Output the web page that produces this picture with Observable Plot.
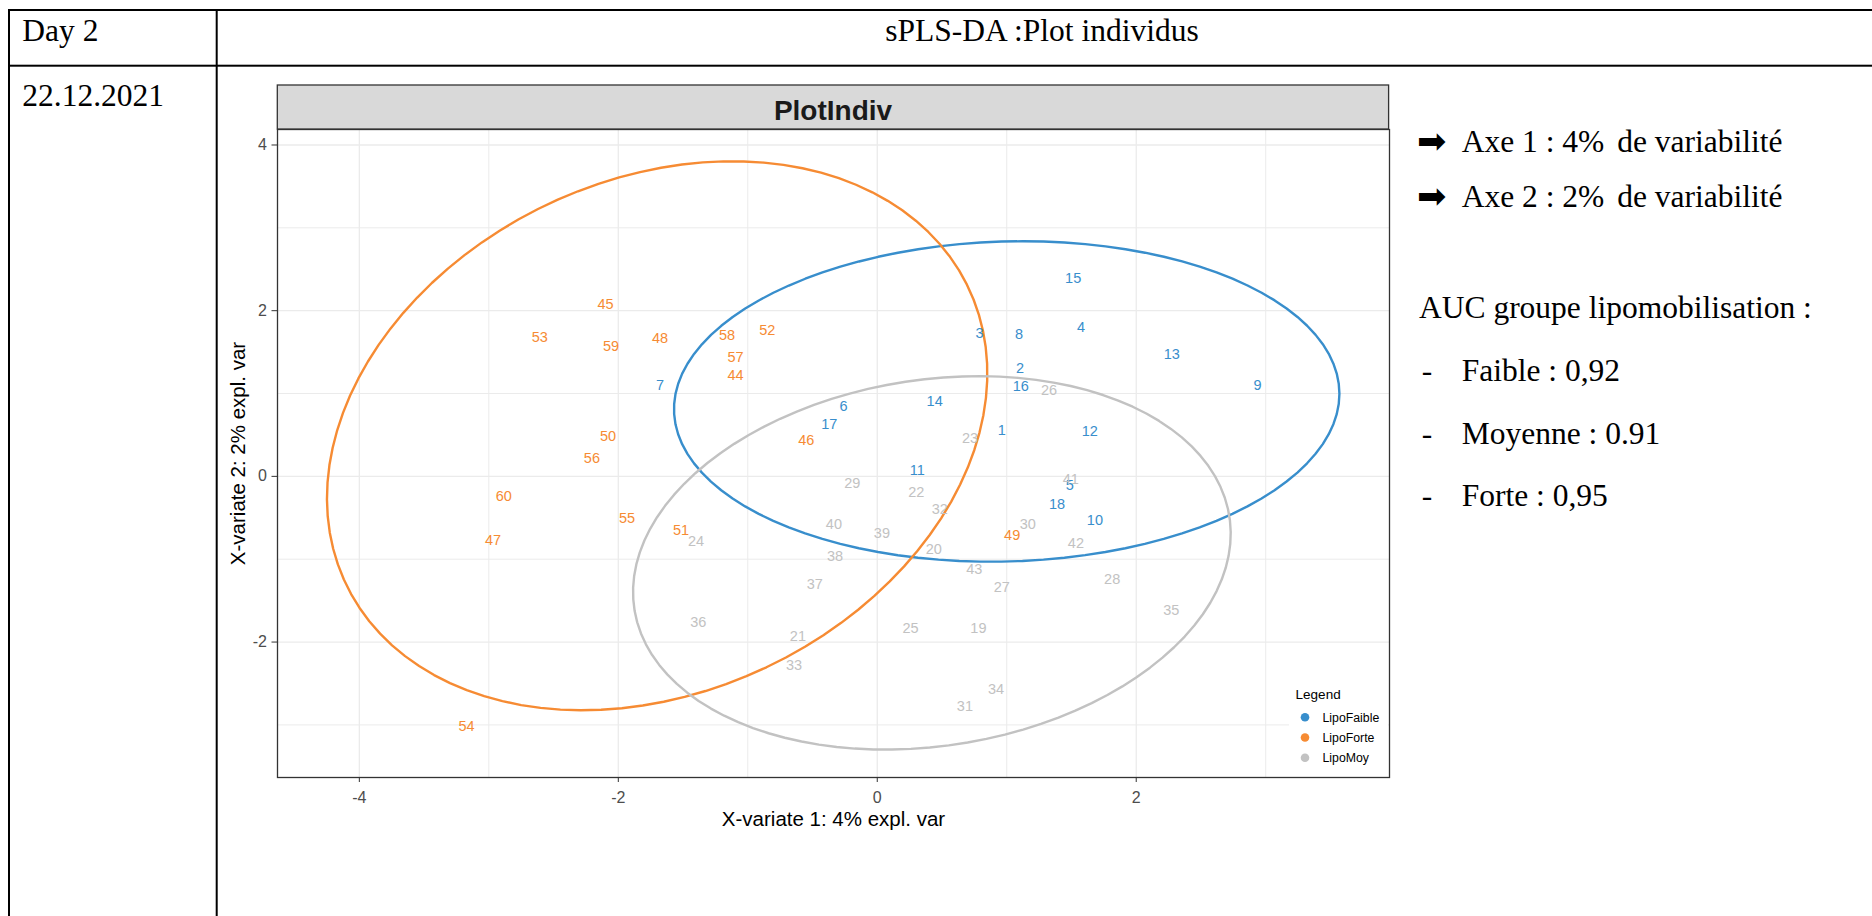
<!DOCTYPE html>
<html><head><meta charset="utf-8">
<script src="https://cdn.jsdelivr.net/npm/d3@7"></script>
<script src="https://cdn.jsdelivr.net/npm/@observablehq/plot@0.6"></script>
<style>
html,body{margin:0;padding:0;background:#fff;width:1872px;height:916px;overflow:hidden;}
#plot{position:absolute;left:200px;top:125px;}
#overlay{position:absolute;left:0;top:0;pointer-events:none;}
</style></head><body>
<div id="plot"></div>
<svg id="overlay" width="1872" height="916"></svg>
<script>
// ---- data ----
const groups = ["LipoFaible", "LipoForte", "LipoMoy"];
const groupColors = ["#388ECC", "#F68B33", "#C2C2C2"];

const faibleIds = [1,2,3,4,5,6,7,8,9,10,11,12,13,14,15,16,17,18];
const faibleX = [0.962,1.103,0.789,1.574,1.486,-0.261,-1.678,1.095,2.937,1.681,0.310,1.641,2.274,0.443,1.513,1.108,-0.371,1.388];
const faibleY = [0.560,1.309,1.732,1.800,-0.112,0.842,1.095,1.720,1.095,-0.527,0.069,0.544,1.470,0.906,2.391,1.092,0.633,-0.342];

const moyIds = [19,20,21,22,23,24,25,26,27,28,29,30,31,32,33,34,35,36,37,38,39,40,41,42,43];
const moyX = [0.781,0.437,-0.613,0.302,0.717,-1.400,0.257,1.327,0.962,1.814,-0.193,1.162,0.677,0.483,-0.643,0.917,2.271,-1.382,-0.483,-0.326,0.036,-0.335,1.494,1.534,0.749];
const moyY = [-1.831,-0.877,-1.932,-0.197,0.459,-0.789,-1.831,1.043,-1.340,-1.239,-0.080,-0.575,-2.778,-0.402,-2.278,-2.576,-1.614,-1.763,-1.300,-0.970,-0.688,-0.575,-0.040,-0.805,-1.127];

const forteIds = [44,45,46,47,48,49,50,51,52,53,54,55,56,57,58,59,60];
const forteX = [-1.095,-2.098,-0.548,-2.968,-1.678,1.042,-2.080,-1.515,-0.850,-2.607,-3.172,-1.932,-2.204,-1.095,-1.160,-2.056,-2.885];
const forteY = [1.220,2.082,0.431,-0.777,1.667,-0.708,0.479,-0.656,1.768,1.679,-3.023,-0.507,0.217,1.437,1.699,1.566,-0.242];

const xDomain = [-4.632, 3.956];
const yDomain = [-3.635, 4.187];
const xTicks = [-4, -2, 0, 2];
const yTicks = [-2, 0, 2, 4];
const xMinor = [-3, -1, 1, 3];
const yMinor = [-3, -1, 1, 3];

const xTitle = "X-variate 1: 4% expl. var";
const yTitle = "X-variate 2: 2% expl. var";
const panelTitle = "PlotIndiv";
const legendTitle = "Legend";

const headerLeft = "Day 2";
const headerRight = "sPLS-DA :Plot individus";
const dateText = "22.12.2021";
const axeNotes = ["Axe 1 : 4%", "Axe 2 : 2%"];
const axeNoteTail = " de variabilité";
const aucTitle = "AUC groupe lipomobilisation :";
const aucLines = ["Faible : 0,92", "Moyenne : 0.91", "Forte : 0,95"];

// ---- build table ----
const series = [
  {group: "LipoFaible", ids: faibleIds, xs: faibleX, ys: faibleY},
  {group: "LipoForte", ids: forteIds, xs: forteX, ys: forteY},
  {group: "LipoMoy", ids: moyIds, xs: moyX, ys: moyY}
];
const points = series.flatMap(s => s.ids.map((id, i) => ({id: String(id), x: s.xs[i], y: s.ys[i], group: s.group})));

// 95% confidence ellipse (as in the R 'ellipse' package used by mixOmics)
function confEllipse(s, level = 0.95, npoints = 100) {
  const n = s.xs.length;
  const mx = d3.mean(s.xs), my = d3.mean(s.ys);
  const sx = d3.deviation(s.xs), sy = d3.deviation(s.ys);
  let cxy = 0;
  for (let i = 0; i < n; i++) cxy += (s.xs[i] - mx) * (s.ys[i] - my);
  cxy /= (n - 1);
  const d = Math.acos(cxy / (sx * sy));
  const t = Math.sqrt(-2 * Math.log(1 - level));
  return d3.range(npoints).map(k => {
    const a = 2 * Math.PI * k / (npoints - 1);
    return {x: t * sx * Math.cos(a + d / 2) + mx, y: t * sy * Math.cos(a - d / 2) + my, group: s.group};
  });
}
const ellipses = series.flatMap(s => confEllipse(s));

// ---- plot ----
const chart = Plot.plot({
  width: 1209, height: 720,
  marginLeft: 77, marginRight: 20, marginTop: 4, marginBottom: 68,
  style: {fontFamily: "'Liberation Sans', Arial, sans-serif", background: "transparent", overflow: "visible", color: "#333"},
  x: {domain: xDomain},
  y: {domain: yDomain},
  color: {domain: groups, range: groupColors},
  marks: [
    Plot.gridX({ticks: xMinor, stroke: "#EBEBEB", strokeOpacity: 1, strokeWidth: 1}),
    Plot.gridY({ticks: yMinor, stroke: "#EBEBEB", strokeOpacity: 1, strokeWidth: 1}),
    Plot.gridX({ticks: xTicks, stroke: "#EBEBEB", strokeOpacity: 1, strokeWidth: 1.3}),
    Plot.gridY({ticks: yTicks, stroke: "#EBEBEB", strokeOpacity: 1, strokeWidth: 1.3}),
    Plot.line(ellipses, {x: "x", y: "y", z: "group", stroke: "group", strokeWidth: 2.4}),
    Plot.text(points, {x: "x", y: "y", text: "id", fill: "group", fontSize: 14.5}),
    Plot.frame({stroke: "#333", strokeWidth: 1.3}),
    Plot.axisX({ticks: xTicks, tickSize: 5, tickPadding: 9, fontSize: 16, color: "#4D4D4D", stroke: "#333", tickFormat: d => String(d), label: null}),
    Plot.axisY({ticks: yTicks, tickSize: 5.5, tickPadding: 5, fontSize: 16, color: "#4D4D4D", stroke: "#333", tickFormat: d => String(d), label: null}),
    Plot.text([xTitle], {frameAnchor: "bottom", dy: 42, textAnchor: "middle", lineAnchor: "middle", fontSize: 20.5, fill: "#000"}),
    Plot.text([yTitle], {frameAnchor: "left", dx: -39, rotate: -90, textAnchor: "middle", lineAnchor: "middle", fontSize: 20.5, fill: "#000"})
  ]
});
document.getElementById("plot").appendChild(chart);

// ---- overlay: table, strip, notes, legend ----
const svg = d3.select("#overlay");
const serif = "'Liberation Serif', 'Times New Roman', serif";
const sans = "'Liberation Sans', Arial, sans-serif";

// table borders
[[8, 9, 1872, 2], [8, 64.7, 1872, 2], [8, 9, 2, 916], [215.7, 9, 2, 916]].forEach(([x, y, w, h]) => {
  svg.append("rect").attr("x", x).attr("y", y).attr("width", w - (w > 100 ? x : 0)).attr("height", h - (h > 100 ? y : 0)).attr("fill", "#000");
});

const txt = (s, x, y, opts = {}) => svg.append("text").attr("x", x).attr("y", y)
  .attr("font-family", opts.family || serif).attr("font-size", opts.size || 31.5)
  .attr("font-weight", opts.weight || "normal").attr("fill", opts.fill || "#000")
  .attr("text-anchor", opts.anchor || "start").text(s);

txt(headerLeft, 22.3, 41);
txt(headerRight, 1042, 41, {anchor: "middle"});
txt(dateText, 22.3, 106);

// notes
axeNotes.forEach((s, i) => {
  const yb = 151.7 + i * 55;
  txt("\u27A1", 1417, yb + 1, {family: "'DejaVu Sans', sans-serif", size: 35});
  const t = txt(s, 1461.7, yb);
  t.append("tspan").attr("dx", 5).text(axeNoteTail);
});
txt(aucTitle, 1419, 318);
aucLines.forEach((s, i) => {
  const yb = 381 + i * 62.5;
  txt("-", 1421.7, yb);
  txt(s, 1461.7, yb);
});

// strip
svg.append("rect").attr("x", 277.3).attr("y", 85).attr("width", 1111.3).attr("height", 44)
  .attr("fill", "#D9D9D9").attr("stroke", "#333").attr("stroke-width", 1.3);
txt(panelTitle, 833, 120, {family: sans, size: 28, weight: "bold", anchor: "middle", fill: "#1A1A1A"});

// legend
svg.append("rect").attr("x", 1289).attr("y", 680).attr("width", 99).attr("height", 96).attr("fill", "#fff");
txt(legendTitle, 1295.6, 699, {family: sans, size: 13.5});
groups.forEach((g, i) => {
  const cy = 717.3 + i * 20.2;
  svg.append("circle").attr("cx", 1305).attr("cy", cy).attr("r", 4.3).attr("fill", groupColors[i]);
  txt(g, 1322.5, cy + 4.4, {family: sans, size: 12.3});
});
</script>
</body></html>
